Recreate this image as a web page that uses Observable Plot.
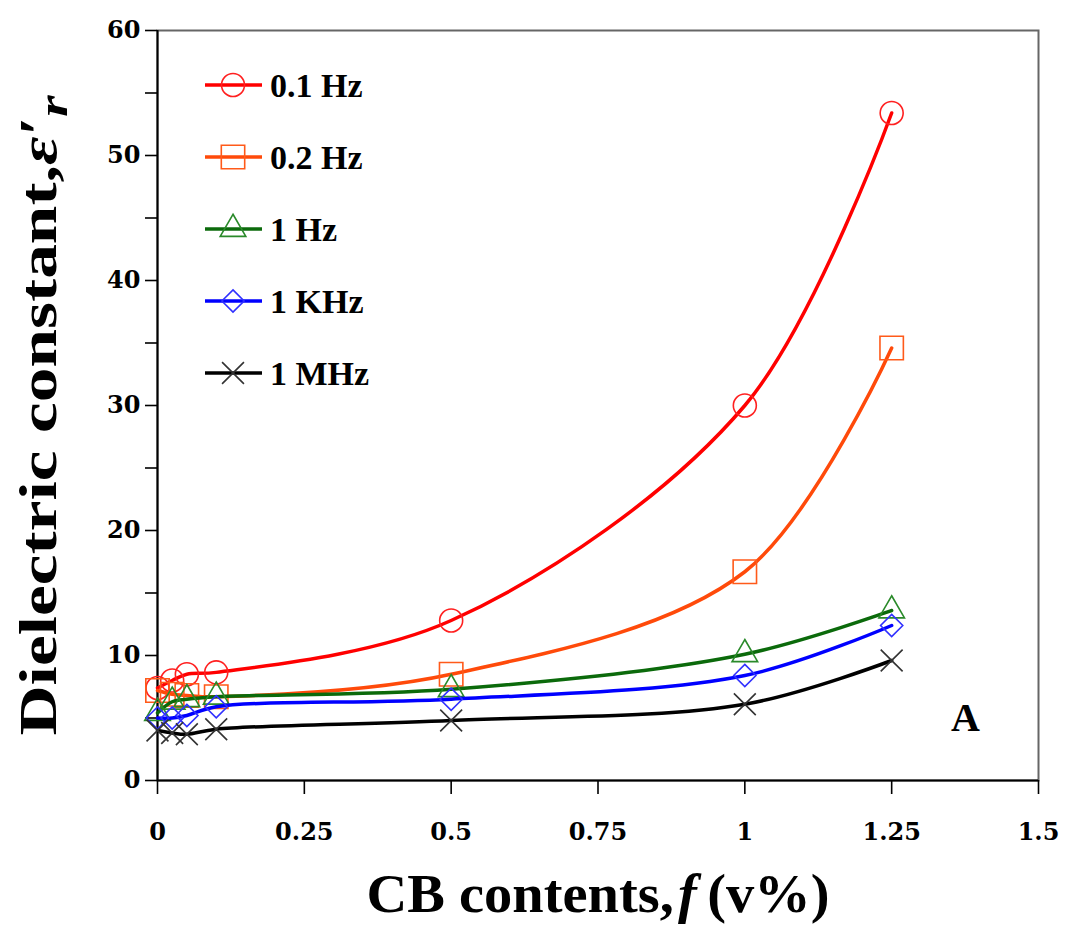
<!DOCTYPE html>
<html><head><meta charset="utf-8">
<script src="https://cdn.jsdelivr.net/npm/d3@7"></script>
<script src="https://cdn.jsdelivr.net/npm/@observablehq/plot@0.6"></script>
<style>
body{margin:0;background:#fff}
#chart{width:1066px;height:934px;position:relative}
</style>
</head><body><div id="chart"></div>
<script>
// ---- data ----
const freqLabels = ["0.1 Hz", "0.2 Hz", "1 Hz", "1 KHz", "1 MHz"];
const cbContent = [0, 0.025, 0.05, 0.1, 0.5, 1, 1.25];
const eps01Hz = [7.4, 8.0, 8.5, 8.65, 12.8, 30.0, 53.4];
const eps02Hz = [7.2, 6.9, 6.8, 6.7, 8.5, 16.7, 34.6];
const eps1Hz  = [5.4, 6.3, 6.5, 6.7, 7.3, 10.1, 13.6];
const eps1KHz = [5.0, 5.0, 5.2, 5.9, 6.5, 8.4, 12.4];
const eps1MHz = [4.0, 3.8, 3.7, 4.1, 4.8, 6.1, 9.6];
const xTicks = [0, 0.25, 0.5, 0.75, 1, 1.25, 1.5];
const yTicks = [0, 5, 10, 15, 20, 25, 30, 35, 40, 45, 50, 55, 60];
const xTitle = "CB contents, f (v%)";
const yTitle = "Dielectric constant,ε′r";
const panelLabel = "A";

// ---- styles ----
const seriesStyles = [
  {values: eps01Hz, line: "#ff0000", marker: "#ff2020", symbol: "circle",   r: 11.5},
  {values: eps02Hz, line: "#ff4a0a", marker: "#ff5a1a", symbol: "square",   r: 13.2},
  {values: eps1Hz,  line: "#0b6a0b", marker: "#2a8a2a", symbol: "triangle", r: 9.5},
  {values: eps1KHz, line: "#0000ff", marker: "#3030ff", symbol: "diamond2", r: 10},
  {values: eps1MHz, line: "#000000", marker: "#333333", symbol: "times",    r: 10}
];

const serif = "'Liberation Serif','Times New Roman',serif";
const tickFont = "'DejaVu Serif',serif";

const marks = [
  Plot.frame({stroke: "#666", strokeWidth: 2}),
  Plot.axisY({ticks: yTicks, tickSize: 12, tickPadding: 5, strokeWidth: 1.6,
    tickFormat: d => d % 10 === 0 ? String(d) : "", label: null,
    fontSize: 24, fontWeight: "bold", fontFamily: tickFont}),
  Plot.axisX({ticks: xTicks, tickSize: 14, tickPadding: 28, strokeWidth: 1.6,
    tickFormat: d => String(d), label: null,
    fontSize: 24, fontWeight: "bold", fontFamily: tickFont}),
  Plot.ruleX([0], {stroke: "#000", strokeWidth: 2}),
  Plot.ruleY([0], {stroke: "#000", strokeWidth: 2})
];

seriesStyles.forEach((s, si) => {
  const rows = cbContent.map((x, i) => ({x, y: s.values[i], series: freqLabels[si]}));
  marks.push(Plot.line(rows, {x: "x", y: "y", stroke: s.line, strokeWidth: 3.5, curve: "catmull-rom"}));
  marks.push(Plot.dot(rows, {x: "x", y: "y", symbol: () => s.symbol, r: s.r, stroke: s.marker,
    strokeWidth: 1.6, fill: "none"}));
});

marks.push(
  Plot.text([xTitle], {frameAnchor: "bottom", dy: 114, textAnchor: "middle", lineAnchor: "middle",
    fontSize: 54, fontWeight: "bold", fontFamily: serif, fill: "#000", text: d => d}),
  Plot.text([yTitle], {frameAnchor: "left", dx: -118, dy: 10, rotate: -90, textAnchor: "middle",
    lineAnchor: "middle", fontSize: 53, fontWeight: "bold", fontFamily: serif, fill: "#000", text: d => d}),
  Plot.text([panelLabel], {frameAnchor: "bottom-right", dx: -73, dy: -62, textAnchor: "middle",
    lineAnchor: "middle", fontSize: 40, fontWeight: "bold", fontFamily: serif, fill: "#000", text: d => d})
);

const chart = Plot.plot({
  width: 1066, height: 934,
  marginLeft: 157, marginRight: 28, marginTop: 30, marginBottom: 154,
  x: {domain: [0, 1.5]},
  y: {domain: [0, 60]},
  symbol: {type: "identity"},
  style: {background: "#fff", color: "#000", overflow: "visible"},
  marks
});
document.getElementById("chart").appendChild(chart);

// rich text for titles (italic epsilon / subscript r, italic f)
const svg = d3.select(chart);
svg.selectAll("text").each(function() {
  const t = d3.select(this);
  const txt = this.textContent;
  if (txt === yTitle) {
    t.text(null);
    t.attr("textLength", 640).attr("lengthAdjust", "spacingAndGlyphs");
    t.append("tspan").text("Dielectric constant,");
    t.append("tspan").attr("font-style", "italic").text("ε′");
    t.append("tspan").attr("font-style", "italic").attr("font-size", "0.8em").attr("dy", "0.25em").text("r");
  } else if (txt === xTitle) {
    t.text(null);
    t.attr("textLength", 463).attr("lengthAdjust", "spacingAndGlyphs");
    t.append("tspan").text("CB contents,");
    t.append("tspan").attr("font-style", "italic").attr("dx", 4).text("f");
    t.append("tspan").attr("dx", 10).text("(v%)");
  }
});

// legend drawn inside the plot frame
const legend = svg.append("g").attr("class", "legend");
const symMap = {circle: d3.symbolCircle, square: d3.symbolSquare, triangle: d3.symbolTriangle,
  diamond2: d3.symbolDiamond2, times: d3.symbolTimes};
seriesStyles.forEach((s, i) => {
  const cy = 85 + i * 72;
  const g = legend.append("g").attr("transform", `translate(0,${cy})`);
  g.append("line").attr("x1", 205).attr("x2", 262).attr("y1", 0).attr("y2", 0)
    .attr("stroke", s.line).attr("stroke-width", 3.5);
  g.append("path").attr("transform", "translate(233,0)")
    .attr("d", d3.symbol(symMap[s.symbol], Math.PI * s.r * s.r)())
    .attr("fill", "none").attr("stroke", s.marker).attr("stroke-width", 1.6);
  g.append("text").attr("x", 270).attr("y", 0).attr("dy", "0.35em")
    .attr("text-anchor", "start")
    .attr("font-family", serif).attr("font-weight", "bold").attr("font-size", 34)
    .attr("fill", "#000").text(freqLabels[i]);
});
</script>
</body></html>
